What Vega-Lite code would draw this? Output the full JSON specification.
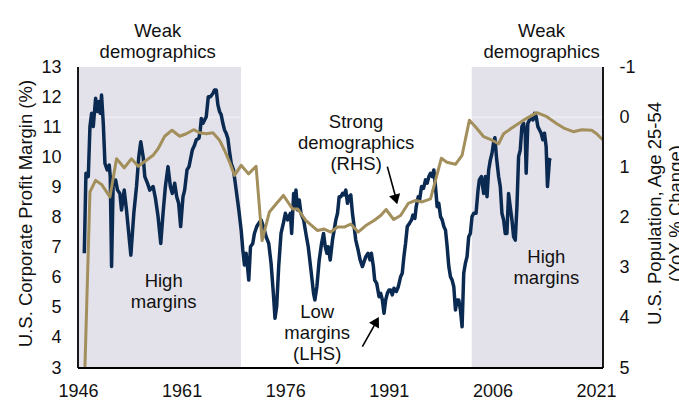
{
  "$schema": "https://vega.github.io/schema/vega-lite/v6.json",
  "width": 525,
  "height": 301,
  "autosize": {"type": "none"},
  "padding": {"left": 78, "top": 67, "right": 76, "bottom": 33},
  "background": "white",
  "config": {
    "view": {"stroke": null},
    "font": "Liberation Sans",
    "axis": {
      "grid": false, "ticks": false, "tickSize": 0, "domain": false,
      "labelFont": "Liberation Sans", "labelFontSize": 18, "labelColor": "#111111",
      "titleFont": "Liberation Sans", "titleFontSize": 18.5, "titleFontWeight": "normal", "titleColor": "#111111"
    }
  },
  "datasets": {
    "shade": [{"s": 1946, "e": 1969.6}, {"s": 2003.0, "e": 2022}],
    "margin": [
      {"t":1946.91,"m":6.81},{"t":1947.15,"m":9.47},{"t":1947.49,"m":9.36},{"t":1947.73,"m":11.02},{"t":1947.97,"m":11.46},
      {"t":1948.21,"m":11.02},{"t":1948.55,"m":11.96},{"t":1948.84,"m":11.52},{"t":1949.03,"m":11.85},{"t":1949.22,"m":11.46},
      {"t":1949.41,"m":12.07},{"t":1949.66,"m":11.13},{"t":1949.90,"m":9.80},{"t":1950.23,"m":9.58},{"t":1950.52,"m":9.74},
      {"t":1950.67,"m":9.36},{"t":1950.86,"m":6.37},{"t":1951.10,"m":9.25},{"t":1951.44,"m":9.25},{"t":1951.72,"m":8.91},
      {"t":1952.06,"m":8.80},{"t":1952.30,"m":8.25},{"t":1952.69,"m":8.91},{"t":1953.02,"m":8.25},{"t":1953.65,"m":6.75},
      {"t":1954.08,"m":8.14},{"t":1954.47,"m":9.03},{"t":1954.80,"m":10.02},{"t":1955.09,"m":10.52},{"t":1955.43,"m":10.02},
      {"t":1955.67,"m":9.36},{"t":1956.05,"m":9.14},{"t":1956.39,"m":8.91},{"t":1956.87,"m":9.03},{"t":1957.21,"m":8.64},
      {"t":1957.59,"m":8.03},{"t":1957.98,"m":7.14},{"t":1958.31,"m":8.14},{"t":1958.65,"m":9.03},{"t":1959.03,"m":9.69},
      {"t":1959.37,"m":9.03},{"t":1959.66,"m":8.80},{"t":1960.00,"m":9.14},{"t":1960.29,"m":8.69},{"t":1960.57,"m":8.47},
      {"t":1960.86,"m":7.70},{"t":1961.20,"m":8.69},{"t":1961.44,"m":8.91},{"t":1961.78,"m":9.58},{"t":1962.07,"m":9.69},
      {"t":1962.26,"m":9.91},{"t":1962.55,"m":10.24},{"t":1962.88,"m":10.41},{"t":1963.12,"m":10.58},{"t":1963.51,"m":10.63},
      {"t":1963.70,"m":10.91},{"t":1963.85,"m":11.29},{"t":1964.09,"m":11.13},{"t":1964.33,"m":11.24},{"t":1964.57,"m":11.35},
      {"t":1964.86,"m":12.01},{"t":1965.15,"m":12.01},{"t":1965.53,"m":12.12},{"t":1965.77,"m":12.24},{"t":1966.01,"m":12.24},
      {"t":1966.25,"m":11.74},{"t":1966.49,"m":11.52},{"t":1966.73,"m":11.41},{"t":1966.97,"m":11.13},{"t":1967.21,"m":10.91},
      {"t":1967.45,"m":10.80},{"t":1967.69,"m":10.63},{"t":1967.93,"m":10.19},{"t":1968.18,"m":9.80},{"t":1968.51,"m":9.58},
      {"t":1968.90,"m":8.91},{"t":1969.28,"m":8.25},{"t":1969.62,"m":7.58},{"t":1969.86,"m":6.92},{"t":1970.10,"m":6.42},
      {"t":1970.34,"m":6.81},{"t":1970.58,"m":6.26},{"t":1970.72,"m":5.92},{"t":1970.97,"m":7.03},{"t":1971.30,"m":7.14},
      {"t":1971.54,"m":7.47},{"t":1971.88,"m":7.70},{"t":1972.17,"m":7.81},{"t":1972.50,"m":7.92},{"t":1972.84,"m":7.70},
      {"t":1973.23,"m":7.36},{"t":1973.61,"m":7.14},{"t":1973.95,"m":6.48},{"t":1974.28,"m":5.48},{"t":1974.52,"m":4.65},
      {"t":1974.76,"m":5.04},{"t":1975.05,"m":6.37},{"t":1975.39,"m":7.47},{"t":1975.73,"m":7.81},{"t":1976.02,"m":8.14},
      {"t":1976.35,"m":7.92},{"t":1976.74,"m":8.14},{"t":1976.93,"m":7.47},{"t":1977.22,"m":8.80},{"t":1977.41,"m":8.36},
      {"t":1977.55,"m":8.91},{"t":1977.79,"m":8.25},{"t":1978.03,"m":8.58},{"t":1978.27,"m":8.14},{"t":1978.66,"m":7.92},
      {"t":1978.99,"m":7.47},{"t":1979.33,"m":7.03},{"t":1979.72,"m":6.26},{"t":1980.10,"m":5.48},{"t":1980.29,"m":5.26},
      {"t":1980.58,"m":5.70},{"t":1980.92,"m":6.59},{"t":1981.26,"m":7.14},{"t":1981.55,"m":7.47},{"t":1981.79,"m":7.03},
      {"t":1982.03,"m":6.81},{"t":1982.22,"m":7.03},{"t":1982.51,"m":6.59},{"t":1982.84,"m":7.25},{"t":1983.08,"m":7.58},
      {"t":1983.33,"m":7.92},{"t":1983.57,"m":8.14},{"t":1983.81,"m":8.69},{"t":1984.05,"m":8.69},{"t":1984.29,"m":8.80},
      {"t":1984.53,"m":8.75},{"t":1984.77,"m":8.91},{"t":1985.01,"m":8.47},{"t":1985.25,"m":8.69},{"t":1985.49,"m":8.75},
      {"t":1985.73,"m":8.14},{"t":1985.97,"m":7.70},{"t":1986.21,"m":7.25},{"t":1986.55,"m":6.92},{"t":1986.84,"m":6.59},
      {"t":1987.17,"m":6.37},{"t":1987.41,"m":6.53},{"t":1987.66,"m":6.70},{"t":1987.99,"m":6.81},{"t":1988.28,"m":6.59},
      {"t":1988.47,"m":6.81},{"t":1988.76,"m":6.37},{"t":1988.95,"m":5.92},{"t":1989.24,"m":5.81},{"t":1989.58,"m":5.37},
      {"t":1989.82,"m":5.48},{"t":1990.06,"m":5.26},{"t":1990.30,"m":4.82},{"t":1990.54,"m":5.26},{"t":1990.78,"m":5.48},
      {"t":1991.02,"m":5.59},{"t":1991.26,"m":5.59},{"t":1991.50,"m":5.43},{"t":1991.74,"m":5.65},{"t":1992.08,"m":5.54},
      {"t":1992.37,"m":5.70},{"t":1992.70,"m":6.03},{"t":1992.94,"m":6.15},{"t":1993.18,"m":6.70},{"t":1993.42,"m":7.14},
      {"t":1993.67,"m":7.70},{"t":1994.00,"m":7.81},{"t":1994.29,"m":7.92},{"t":1994.48,"m":8.08},{"t":1994.77,"m":7.97},
      {"t":1994.96,"m":8.36},{"t":1995.25,"m":8.69},{"t":1995.45,"m":8.58},{"t":1995.73,"m":9.03},{"t":1996.02,"m":8.97},
      {"t":1996.31,"m":9.25},{"t":1996.55,"m":9.14},{"t":1996.79,"m":9.36},{"t":1997.03,"m":9.47},{"t":1997.27,"m":9.36},
      {"t":1997.51,"m":9.58},{"t":1997.75,"m":9.03},{"t":1997.99,"m":8.36},{"t":1998.23,"m":8.47},{"t":1998.48,"m":8.03},
      {"t":1998.72,"m":7.92},{"t":1998.96,"m":7.70},{"t":1999.20,"m":7.58},{"t":1999.44,"m":7.03},{"t":1999.68,"m":6.37},
      {"t":1999.92,"m":6.03},{"t":2000.16,"m":5.92},{"t":2000.40,"m":5.70},{"t":2000.64,"m":4.93},{"t":2000.88,"m":5.26},
      {"t":2001.12,"m":5.26},{"t":2001.36,"m":4.93},{"t":2001.60,"m":4.37},{"t":2001.84,"m":6.15},{"t":2002.08,"m":6.48},
      {"t":2002.32,"m":6.70},{"t":2002.56,"m":7.36},{"t":2002.80,"m":7.47},{"t":2003.04,"m":8.03},{"t":2003.29,"m":8.14},
      {"t":2003.62,"m":8.14},{"t":2003.91,"m":8.91},{"t":2004.10,"m":9.25},{"t":2004.39,"m":9.36},{"t":2004.58,"m":9.03},
      {"t":2004.73,"m":8.80},{"t":2004.97,"m":9.36},{"t":2005.21,"m":8.69},{"t":2005.45,"m":9.58},{"t":2005.69,"m":9.91},
      {"t":2005.93,"m":10.13},{"t":2006.17,"m":10.50},{"t":2006.35,"m":10.65},{"t":2006.60,"m":9.95},{"t":2006.89,"m":9.36},
      {"t":2007.13,"m":9.03},{"t":2007.37,"m":8.14},{"t":2007.61,"m":7.92},{"t":2007.85,"m":7.47},{"t":2008.09,"m":7.47},
      {"t":2008.33,"m":8.80},{"t":2008.57,"m":8.36},{"t":2008.82,"m":7.92},{"t":2009.06,"m":7.36},{"t":2009.30,"m":7.25},
      {"t":2009.54,"m":8.36},{"t":2009.78,"m":10.02},{"t":2010.02,"m":10.24},{"t":2010.26,"m":11.02},{"t":2010.50,"m":11.13},
      {"t":2010.74,"m":10.80},{"t":2010.88,"m":9.47},{"t":2011.12,"m":11.13},{"t":2011.36,"m":11.24},{"t":2011.61,"m":11.35},
      {"t":2011.85,"m":11.24},{"t":2012.09,"m":11.46},{"t":2012.33,"m":11.35},{"t":2012.57,"m":11.02},{"t":2012.81,"m":10.91},
      {"t":2013.05,"m":10.80},{"t":2013.29,"m":10.58},{"t":2013.53,"m":10.80},{"t":2013.77,"m":10.35},{"t":2013.96,"m":9.03},
      {"t":2014.25,"m":9.91},{"t":2014.35,"m":9.97}
    ],
    "pop": [
      {"t":1947.00,"p":5.0},{"t":1947.73,"p":1.49},{"t":1948.55,"p":1.26},{"t":1949.41,"p":1.34},{"t":1950.62,"p":1.59},
      {"t":1951.58,"p":0.83},{"t":1952.69,"p":1.01},{"t":1953.74,"p":0.83},{"t":1954.71,"p":0.98},{"t":1955.91,"p":0.86},
      {"t":1956.87,"p":0.76},{"t":1957.59,"p":0.63},{"t":1958.55,"p":0.38},{"t":1959.61,"p":0.26},{"t":1960.72,"p":0.38},
      {"t":1961.68,"p":0.33},{"t":1962.74,"p":0.25},{"t":1963.61,"p":0.31},{"t":1964.57,"p":0.33},{"t":1965.53,"p":0.31},
      {"t":1966.49,"p":0.46},{"t":1967.21,"p":0.66},{"t":1967.93,"p":0.89},{"t":1968.66,"p":1.16},{"t":1969.62,"p":0.96},
      {"t":1970.68,"p":1.13},{"t":1971.78,"p":0.98},{"t":1972.26,"p":1.79},{"t":1972.65,"p":2.46},{"t":1973.71,"p":1.89},
      {"t":1974.67,"p":1.73},{"t":1975.73,"p":1.56},{"t":1977.07,"p":1.83},{"t":1977.79,"p":1.83},{"t":1979.00,"p":2.06},
      {"t":1980.68,"p":2.26},{"t":1981.64,"p":2.23},{"t":1982.60,"p":2.29},{"t":1983.57,"p":2.19},{"t":1984.53,"p":2.19},
      {"t":1985.49,"p":2.13},{"t":1986.55,"p":2.29},{"t":1987.66,"p":2.16},{"t":1988.86,"p":2.06},{"t":1989.82,"p":1.96},
      {"t":1990.60,"p":1.84},{"t":1991.70,"p":2.04},{"t":1992.70,"p":1.96},{"t":1993.80,"p":1.72},{"t":1994.87,"p":1.66},
      {"t":1995.83,"p":1.69},{"t":1997.03,"p":1.63},{"t":1997.75,"p":1.26},{"t":1998.60,"p":0.82},{"t":1999.40,"p":0.90},
      {"t":2000.64,"p":0.94},{"t":2001.60,"p":0.76},{"t":2002.66,"p":0.06},{"t":2003.53,"p":0.19},{"t":2004.73,"p":0.39},
      {"t":2005.93,"p":0.46},{"t":2006.89,"p":0.53},{"t":2007.61,"p":0.33},{"t":2009.06,"p":0.19},{"t":2010.50,"p":0.06},
      {"t":2012.42,"p":-0.09},{"t":2013.87,"p":-0.01},{"t":2015.31,"p":0.13},{"t":2016.51,"p":0.23},{"t":2017.71,"p":0.29},
      {"t":2018.92,"p":0.25},{"t":2020.36,"p":0.26},{"t":2021.08,"p":0.33},{"t":2021.95,"p":0.45}
    ],
    "notes": [
      {"t": 1957.54, "v": 14.0, "txt": "Weak\ndemographics"},
      {"t": 2013.1, "v": 14.0, "txt": "Weak\ndemographics"},
      {"t": 1958.4, "v": 5.69, "txt": "High\nmargins"},
      {"t": 2013.8, "v": 6.49, "txt": "High\nmargins"},
      {"t": 1986.26, "v": 10.97, "txt": "Strong\ndemographics\n(RHS)"},
      {"t": 1980.63, "v": 4.66, "txt": "Low\nmargins\n(LHS)"}
    ],
    "arrows": [
      {"t1": 1990.78, "v1": 9.69, "t2": 1991.99, "v2": 8.67},
      {"t1": 1987.17, "v1": 3.71, "t2": 1989.1, "v2": 4.5}
    ],
    "frameX": [{"t": 1946}, {"t": 2022}],
    "frameY": [{"v": 3}]
  },
  "layer": [
    {
      "data": {"name": "shade"},
      "mark": {"type": "rect", "color": "#e3e2ea"},
      "encoding": {
        "x": {"field": "s", "type": "quantitative", "scale": {"domain": [1946, 2022], "nice": false, "zero": false},
              "axis": {"values": [1946, 1961, 1976, 1991, 2006, 2021], "format": "d", "title": null, "labelPadding": 14, "labelFlush": false}},
        "x2": {"field": "e"}
      }
    },
    {
      "data": {"values": [{"z": 0}]},
      "mark": {"type": "rule", "color": "#ffffff", "opacity": 0.6, "strokeWidth": 1},
      "encoding": {
        "y": {"field": "z", "type": "quantitative", "scale": {"domain": [-1, 5], "reverse": true, "nice": false, "zero": false}, "axis": null}
      }
    },
    {
      "data": {"name": "margin"},
      "mark": {"type": "line", "color": "#0b2a52", "strokeWidth": 3.5, "strokeJoin": "round"},
      "encoding": {
        "x": {"field": "t", "type": "quantitative", "scale": {"domain": [1946, 2022], "nice": false, "zero": false},
              "axis": {"values": [1946, 1961, 1976, 1991, 2006, 2021], "format": "d", "title": null, "labelPadding": 14, "labelFlush": false}},
        "y": {"field": "m", "type": "quantitative", "scale": {"domain": [3, 13], "nice": false, "zero": false},
              "axis": {"orient": "left", "values": [3,4,5,6,7,8,9,10,11,12,13], "labelPadding": 17,
                       "title": "U.S. Corporate Profit Margin (%)", "titleAngle": 270, "titleX": -53, "titleY": 146,
                       "titleAlign": "center", "titleBaseline": "middle"}}
      }
    },
    {
      "data": {"name": "pop"},
      "mark": {"type": "line", "color": "#a38f5c", "strokeWidth": 3, "strokeJoin": "round"},
      "encoding": {
        "x": {"field": "t", "type": "quantitative", "scale": {"domain": [1946, 2022], "nice": false, "zero": false},
              "axis": {"values": [1946, 1961, 1976, 1991, 2006, 2021], "format": "d", "title": null, "labelPadding": 14, "labelFlush": false}},
        "y": {"field": "p", "type": "quantitative", "scale": {"domain": [-1, 5], "reverse": true, "nice": false, "zero": false},
              "axis": {"orient": "right", "values": [-1,0,1,2,3,4,5], "labelExpr": "'' + datum.value", "labelPadding": 16,
                       "title": ["U.S. Population, Age 25-54", "(YoY % Change)"], "titleAngle": 270, "titleX": 51, "titleY": 146,
                       "titleAlign": "center", "titleBaseline": "middle", "titleLineHeight": 21}}
      }
    },
    {
      "data": {"name": "notes"},
      "mark": {"type": "text", "align": "center", "baseline": "alphabetic", "fontSize": 18.5, "lineBreak": "\n", "lineHeight": 21, "color": "#111111", "font": "Liberation Sans"},
      "encoding": {
        "x": {"field": "t", "type": "quantitative", "scale": {"domain": [1946, 2022], "nice": false, "zero": false},
              "axis": {"values": [1946, 1961, 1976, 1991, 2006, 2021], "format": "d", "title": null, "labelPadding": 14, "labelFlush": false}},
        "y": {"field": "v", "type": "quantitative", "scale": {"domain": [3, 13], "nice": false, "zero": false}, "axis": null},
        "text": {"field": "txt"}
      }
    },
    {
      "data": {"name": "arrows"},
      "mark": {"type": "rule", "color": "#000000", "strokeWidth": 1.6},
      "encoding": {
        "x": {"field": "t1", "type": "quantitative", "scale": {"domain": [1946, 2022], "nice": false, "zero": false},
              "axis": {"values": [1946, 1961, 1976, 1991, 2006, 2021], "format": "d", "title": null, "labelPadding": 14, "labelFlush": false}},
        "y": {"field": "v1", "type": "quantitative", "scale": {"domain": [3, 13], "nice": false, "zero": false}, "axis": null},
        "x2": {"field": "t2"},
        "y2": {"field": "v2"}
      }
    },
    {
      "data": {"values": [{"t": 1992.02, "v": 8.6}]},
      "mark": {"type": "point", "shape": "triangle-up", "filled": true, "color": "#000000", "opacity": 1, "size": 130, "angle": 164.6},
      "encoding": {
        "x": {"field": "t", "type": "quantitative", "scale": {"domain": [1946, 2022], "nice": false, "zero": false},
              "axis": {"values": [1946, 1961, 1976, 1991, 2006, 2021], "format": "d", "title": null, "labelPadding": 14, "labelFlush": false}},
        "y": {"field": "v", "type": "quantitative", "scale": {"domain": [3, 13], "nice": false, "zero": false}, "axis": null}
      }
    },
    {
      "data": {"values": [{"t": 1989.2, "v": 4.55}]},
      "mark": {"type": "point", "shape": "triangle-up", "filled": true, "color": "#000000", "opacity": 1, "size": 130, "angle": 29.2},
      "encoding": {
        "x": {"field": "t", "type": "quantitative", "scale": {"domain": [1946, 2022], "nice": false, "zero": false},
              "axis": {"values": [1946, 1961, 1976, 1991, 2006, 2021], "format": "d", "title": null, "labelPadding": 14, "labelFlush": false}},
        "y": {"field": "v", "type": "quantitative", "scale": {"domain": [3, 13], "nice": false, "zero": false}, "axis": null}
      }
    },
    {
      "data": {"name": "frameX"},
      "mark": {"type": "rule", "color": "#000000", "strokeWidth": 1.8},
      "encoding": {
        "x": {"field": "t", "type": "quantitative", "scale": {"domain": [1946, 2022], "nice": false, "zero": false},
              "axis": {"values": [1946, 1961, 1976, 1991, 2006, 2021], "format": "d", "title": null, "labelPadding": 14, "labelFlush": false}}
      }
    },
    {
      "data": {"name": "frameY"},
      "mark": {"type": "rule", "color": "#000000", "strokeWidth": 1.8},
      "encoding": {
        "y": {"field": "v", "type": "quantitative", "scale": {"domain": [3, 13], "nice": false, "zero": false}, "axis": null}
      }
    }
  ],
  "resolve": {"scale": {"y": "independent"}}
}
